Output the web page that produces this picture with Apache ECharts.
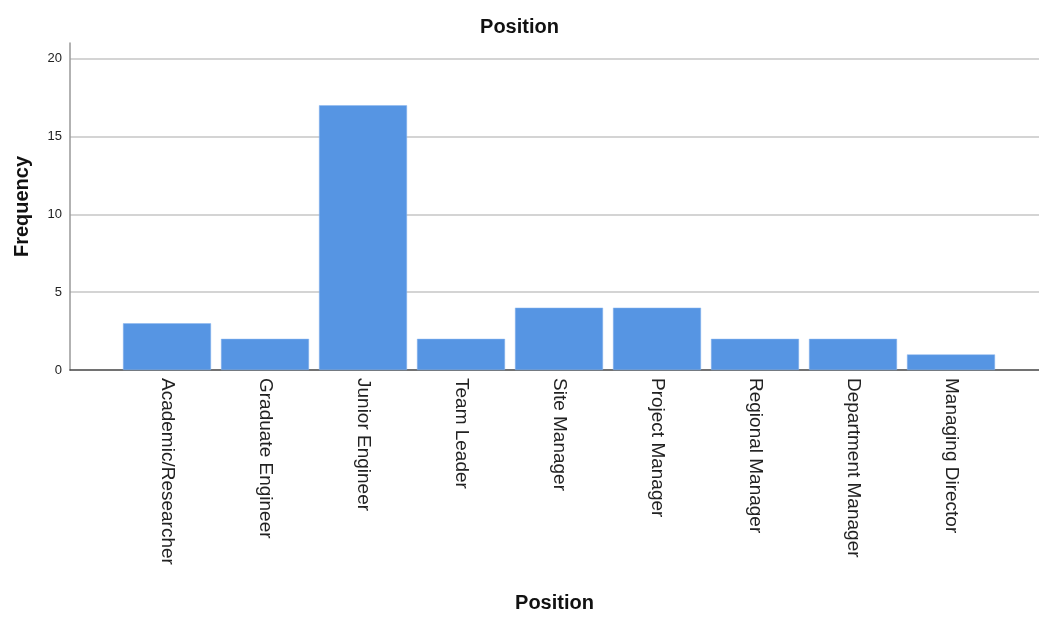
<!DOCTYPE html>
<html>
<head>
<meta charset="utf-8">
<script src="https://cdn.jsdelivr.net/npm/echarts@6/dist/echarts.min.js"></script>
<style>
  html, body { margin: 0; padding: 0; background: #fff; }
  #chart { width: 1039px; height: 617px; }
</style>
</head>
<body>
<div id="chart"></div>
<script>
// categories and frequencies
var positions = ['Academic/Researcher', 'Graduate Engineer', 'Junior Engineer', 'Team Leader',
  'Site Manager', 'Project Manager', 'Regional Manager', 'Department Manager', 'Managing Director'];
var frequency = [3, 2, 17, 2, 4, 4, 2, 2, 1];
var yMax = 21;
var yStep = 5;

var chart = echarts.init(document.getElementById('chart'));
var font = 'Liberation Sans, Arial, sans-serif';

var option = {
  animation: false,
  title: {
    text: 'Position',
    left: 'center',
    top: 12,
    textStyle: { fontFamily: font, fontSize: 20, fontWeight: 'bold', color: '#111' }
  },
  grid: [
    // frame: y axis, grid lines, baseline
    { left: 70, right: 0, top: 43, bottom: 247, outerBoundsMode: 'none', containLabel: false },
    // bars
    { left: 118, right: 39, top: 43, bottom: 247, outerBoundsMode: 'none', containLabel: false }
  ],
  xAxis: [
    {
      gridIndex: 0,
      type: 'value',
      min: 0,
      max: 1,
      name: 'Position',
      nameLocation: 'middle',
      nameGap: 223,
      nameTextStyle: { fontFamily: font, fontSize: 20, fontWeight: 'bold', color: '#111' },
      axisLine: { show: true, lineStyle: { color: '#444', width: 1.5 } },
      axisTick: { show: false },
      axisLabel: { show: false },
      splitLine: { show: false }
    },
    {
      gridIndex: 1,
      type: 'category',
      data: positions,
      axisLine: { show: false },
      axisTick: { show: false },
      axisLabel: {
        rotate: -90,
        margin: 8,
        fontFamily: font,
        fontSize: 19,
        color: '#222',
        interval: 0
      }
    }
  ],
  yAxis: [
    {
      gridIndex: 0,
      type: 'value',
      min: 0,
      max: yMax,
      interval: yStep,
      name: 'Frequency',
      nameLocation: 'middle',
      nameGap: 38,
      nameTextStyle: { fontFamily: font, fontSize: 20, fontWeight: 'bold', color: '#111' },
      axisLine: { show: true, lineStyle: { color: '#999', width: 1.5 } },
      axisTick: { show: false },
      axisLabel: { fontFamily: font, fontSize: 13, color: '#222', margin: 8, showMaxLabel: false },
      splitLine: { show: true, showMaxLine: false, showMinLine: false, lineStyle: { color: '#d4d4d4', width: 2 } }
    },
    {
      gridIndex: 1,
      type: 'value',
      min: 0,
      max: yMax,
      show: false,
      splitLine: { show: false }
    }
  ],
  series: [
    {
      type: 'bar',
      xAxisIndex: 1,
      yAxisIndex: 1,
      data: frequency,
      barWidth: 88,
      itemStyle: { color: '#5695e3', borderColor: '#8ab6ee', borderWidth: 0.5 }
    }
  ]
};

chart.setOption(option);
</script>
</body>
</html>
